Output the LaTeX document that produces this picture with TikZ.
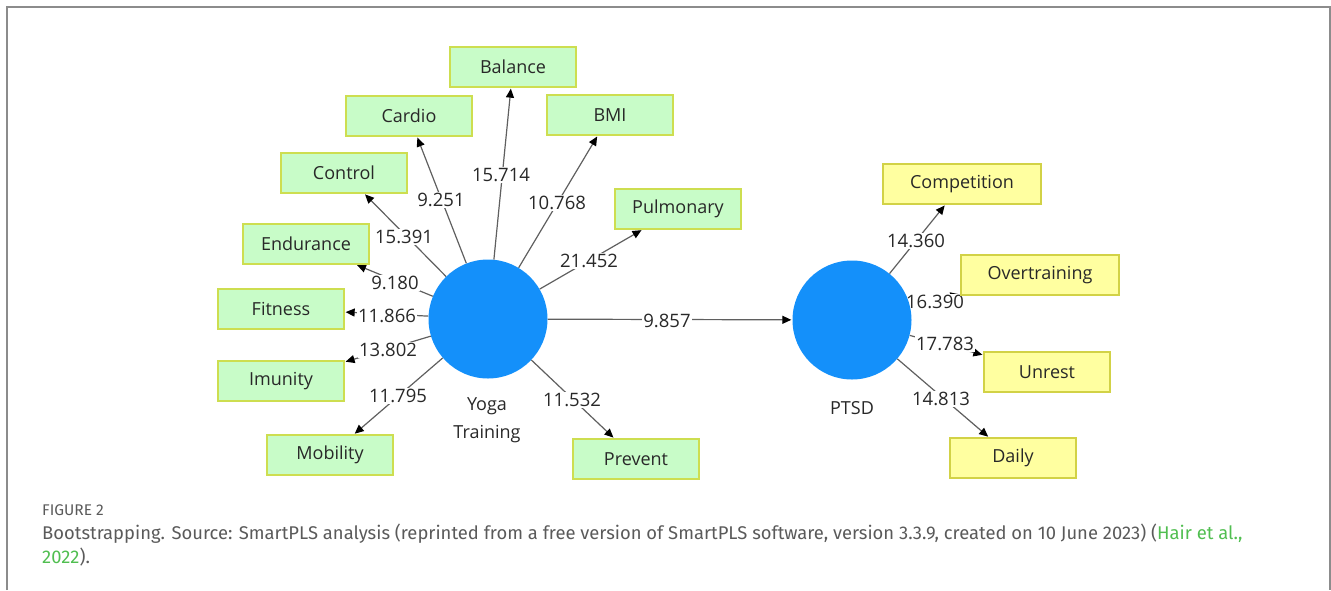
\documentclass[tikz,border=0pt]{standalone}
\usepackage{fontspec}
\setmainfont{Open Sans}
\newfontfamily\capfont{Fira Sans}
\usetikzlibrary{arrows.meta}
\definecolor{gfill}{RGB}{200,252,200}
\definecolor{gline}{RGB}{205,222,80}
\definecolor{yfill}{RGB}{255,255,160}
\definecolor{yline}{RGB}{210,210,70}
\definecolor{lvblue}{RGB}{20,144,250}
\definecolor{edgegray}{RGB}{95,95,95}
\definecolor{txt}{RGB}{40,40,40}
\definecolor{capgray}{RGB}{90,90,90}
\definecolor{linkgreen}{RGB}{80,190,80}
\definecolor{framegray}{RGB}{140,140,140}
\pgfdeclarelayer{bg}
\pgfsetlayers{bg,main}
\tikzset{
  ind/.style={draw=gline, fill=gfill, line width=1.3pt, minimum width=126pt, minimum height=40pt, inner sep=0pt, text=txt, font=\fontsize{18}{20}\selectfont, yshift=-1pt},
  yind/.style={ind, draw=yline, fill=yfill},
  lv/.style={circle, fill=lvblue, minimum size=119pt, inner sep=0pt},
  edge/.style={draw=edgegray, line width=1.2pt, -{Triangle[length=9pt,width=8pt,color=black]}, shorten >=1pt},
  lab/.style={fill=white, inner sep=1.5pt, text=txt, font=\fontsize{18.5}{20}\selectfont},
  lvlab/.style={text=txt, font=\fontsize{18}{28}\selectfont, align=center},
  captext/.style={anchor=base west, inner sep=0pt, text=capgray, font=\capfont\fontsize{18.4}{20}\selectfont},
}
\begin{document}
\begin{tikzpicture}[x=1pt,y=-1pt]
\useasboundingbox (0,0) rectangle (1331,590);
% frame
\draw[framegray, line width=1.5pt] (7,590) -- (7,7) -- (1330,7) -- (1330,590);
% latent variables
\node[lv] (Y) at (488,319) {};
\node[lv] (P) at (852,320) {};
\node[lvlab] (YL) at (487,420) {Yoga\\Training};
\node[lvlab] (PL) at (852,408) {PTSD};
% indicators
\node[ind] (Balance) at (513,66) {Balance};
\node[ind] (Cardio) at (409,115) {Cardio};
\node[ind] (BMI) at (610,114) {BMI};
\node[ind] (Control) at (344,172) {Control};
\node[ind] (Pulmonary) at (678,208) {Pulmonary};
\node[ind] (Endurance) at (306,243) {Endurance};
\node[ind] (Fitness) at (281,308) {Fitness};
\node[ind] (Imunity) at (281,380) {Imunity};
\node[ind] (Mobility) at (330,454) {Mobility};
\node[ind] (Prevent) at (636,458) {Prevent};
\node[yind, minimum width=158pt] (Competition) at (962,183) {Competition};
\node[yind, minimum width=158pt] (Overtraining) at (1040,274) {Overtraining};
\node[yind] (Unrest) at (1047,371) {Unrest};
\node[yind] (Daily) at (1013,457) {Daily};
\begin{pgfonlayer}{bg}
% connectors
\foreach \t in {Balance,Cardio,BMI,Control,Pulmonary,Endurance,Fitness,Imunity,Mobility,Prevent}
  \draw[edge] (Y) -- (\t);
\foreach \t in {Competition,Overtraining,Unrest,Daily}
  \draw[edge] (P) -- (\t);
\draw[edge] (Y) -- (P);
% coefficient labels
\node[lab] (l1) at (501,175) {15.714};
\node[lab] (l2) at (441,200) {9.251};
\node[lab] (l3) at (557,203) {10.768};
\node[lab] (l4) at (404,237) {15.391};
\node[lab] (l5) at (589,261) {21.452};
\node[lab] (l6) at (395,283) {9.180};
\node[lab] (l7) at (387,316) {11.866};
\node[lab] (l8) at (388,350) {13.802};
\node[lab] (l9) at (398,396) {11.795};
\node[lab] (l10) at (572,400) {11.532};
\node[lab] (l11) at (667,321) {9.857};
\node[lab] (l12) at (916,241) {14.360};
\node[lab] (l13) at (935,302) {16.390};
\node[lab] (l14) at (945,344) {17.783};
\node[lab] (l15) at (941,399) {14.813};
\end{pgfonlayer}
% caption
\node[captext, font=\capfont\fontsize{15.5}{16}\selectfont] (c0) at (42,515) {FIGURE 2};
\node[captext] (c1) at (42,539) {Bootstrapping. Source: SmartPLS analysis (reprinted from a free version of SmartPLS software, version 3.3.9, created on 10 June 2023) (\textcolor{linkgreen}{Hair et al.,}};
\node[captext] (c2) at (42,563) {\textcolor{linkgreen}{2022}).};
\end{tikzpicture}
\end{document}
